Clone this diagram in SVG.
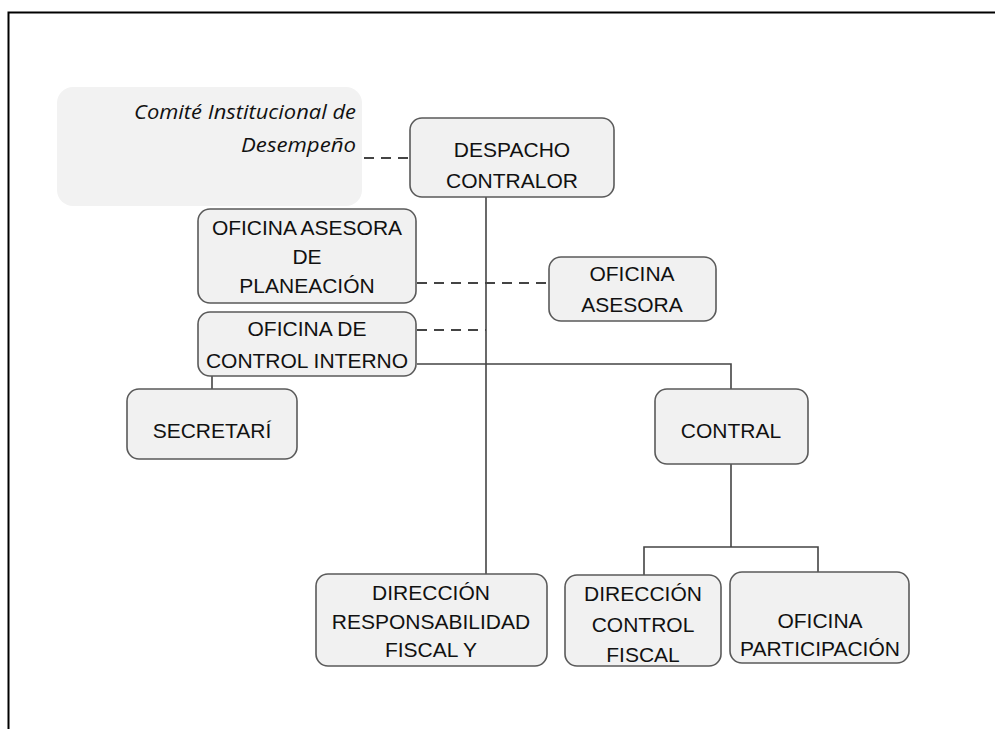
<svg xmlns="http://www.w3.org/2000/svg" width="995" height="729" viewBox="0 0 995 729">
<style>
.box{fill:#f1f1f1;stroke:#5a5a5a;stroke-width:1.6}
.t{font-family:"Liberation Sans",Arial,sans-serif;font-size:21px;fill:#111;text-anchor:middle}
.it{font-family:"Open Sans","Liberation Sans",sans-serif;font-style:italic;font-size:20px;fill:#111;text-anchor:end}
.ln{fill:none;stroke:#444;stroke-width:1.6}
.dash{fill:none;stroke:#444;stroke-width:2;stroke-dasharray:10,7}
</style>
<rect width="995" height="729" fill="#fff"/>
<path d="M8.5,729 V12.5 H995" fill="none" stroke="#000" stroke-width="2"/>
<g id="connectors">
<line class="dash" x1="364" y1="158" x2="409" y2="158"/>
<line class="dash" x1="417" y1="283" x2="548" y2="283"/>
<line class="dash" x1="417" y1="330" x2="486" y2="330"/>
<line class="ln" x1="486" y1="197" x2="486" y2="574"/>
<polyline class="ln" points="417,364 731,364 731,389"/>
<line class="ln" x1="212" y1="376" x2="212" y2="389"/>
<line class="ln" x1="731" y1="464" x2="731" y2="547"/>
<polyline class="ln" points="644,575 644,547 818,547 818,572"/>
</g>
<g id="comite">
<rect x="57" y="87" width="305" height="119" rx="16" fill="#f2f2f2"/>
<text class="it" x="356" y="119" textLength="222" lengthAdjust="spacingAndGlyphs">Comité Institucional de</text>
<text class="it" x="356" y="152" textLength="115" lengthAdjust="spacingAndGlyphs">Desempeño</text>
</g>
<g id="despacho">
<rect class="box" x="410" y="118" width="204" height="79" rx="12"/>
<text class="t" x="512" y="157">DESPACHO</text>
<text class="t" x="512" y="188">CONTRALOR</text>
</g>
<g id="planeacion">
<rect class="box" x="198" y="209" width="218" height="94" rx="12"/>
<text class="t" x="307" y="235">OFICINA ASESORA</text>
<text class="t" x="307" y="264">DE</text>
<text class="t" x="307" y="293">PLANEACIÓN</text>
</g>
<g id="asesora">
<rect class="box" x="549" y="257" width="167" height="64" rx="12"/>
<text class="t" x="632" y="281">OFICINA</text>
<text class="t" x="632" y="312">ASESORA</text>
</g>
<g id="control-interno">
<rect class="box" x="198" y="312" width="218" height="64" rx="12"/>
<text class="t" x="307" y="336">OFICINA DE</text>
<text class="t" x="307" y="368">CONTROL INTERNO</text>
</g>
<g id="secretaria">
<rect class="box" x="127" y="389" width="170" height="70" rx="12"/>
<text class="t" x="212" y="438">SECRETARÍ</text>
</g>
<g id="contral">
<rect class="box" x="655" y="389" width="153" height="75" rx="12"/>
<text class="t" x="731" y="438">CONTRAL</text>
</g>
<g id="responsabilidad">
<rect class="box" x="316" y="574" width="231" height="92" rx="12"/>
<text class="t" x="431" y="600">DIRECCIÓN</text>
<text class="t" x="431" y="629">RESPONSABILIDAD</text>
<text class="t" x="431" y="657">FISCAL Y</text>
</g>
<g id="control-fiscal">
<rect class="box" x="565" y="575" width="156" height="91" rx="12"/>
<text class="t" x="643" y="601">DIRECCIÓN</text>
<text class="t" x="643" y="632">CONTROL</text>
<text class="t" x="643" y="662">FISCAL</text>
</g>
<g id="participacion">
<rect class="box" x="730" y="572" width="179" height="91" rx="12"/>
<text class="t" x="820" y="628">OFICINA</text>
<text class="t" x="820" y="656">PARTICIPACIÓN</text>
</g>
</svg>
